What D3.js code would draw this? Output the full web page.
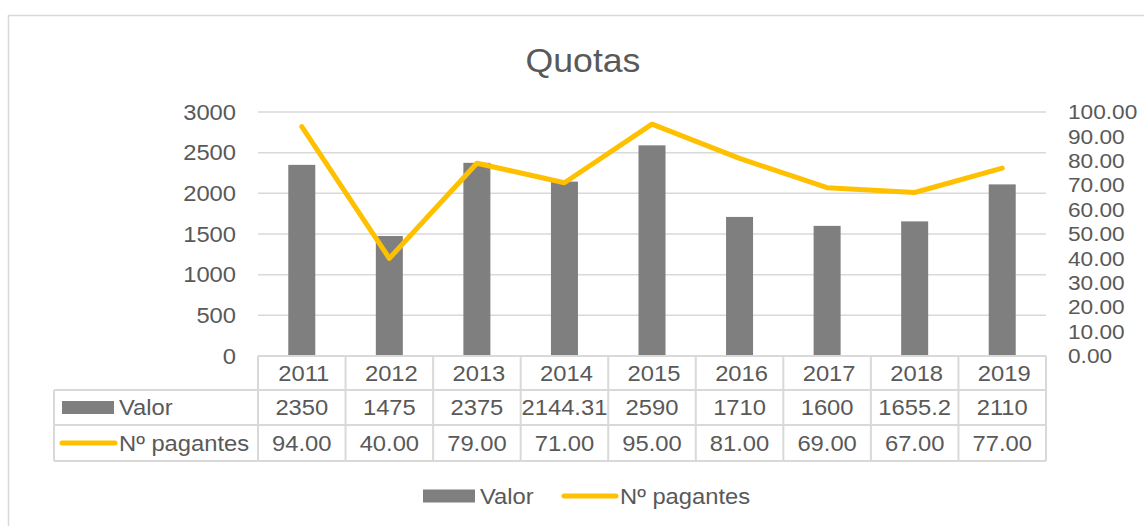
<!DOCTYPE html>
<html><head><meta charset="utf-8">
<script src="https://cdn.jsdelivr.net/npm/d3@7"></script>
<style>body{margin:0;background:#fff;}svg{display:block;font-family:"Liberation Sans",Arial,sans-serif;}</style>
</head><body>
<svg id="c" width="1144" height="526"></svg>
<script>
const years = ["2011","2012","2013","2014","2015","2016","2017","2018","2019"];
const valor = [2350,1475,2375,2144.31,2590,1710,1600,1655.2,2110];
const valorLabels = ["2350","1475","2375","2144.31","2590","1710","1600","1655.2","2110"];
const pagantes = [94,40,79,71,95,81,69,67,77];
const leftTicks = [0,500,1000,1500,2000,2500,3000];
const rightTicks = [0,10,20,30,40,50,60,70,80,90,100];
const seriesNames = ["Valor","Nº pagantes"];

const txt = "#595959", grid = "#d9d9d9", barC = "#7f7f7f", lineC = "#FFC000";
const SX = 1.08;
const svg = d3.select("#c");
svg.append("rect").attr("x",8.5).attr("y",15.5).attr("width",1300).attr("height",700)
  .attr("fill","#fff").attr("stroke",grid).attr("stroke-width",1.5);

const L = 258, R = 1046, T = 112, B = 356;
const x = d3.scaleBand().domain(years).range([L,R]).paddingInner(0).paddingOuter(0);
const yL = d3.scaleLinear().domain([0,3000]).range([B,T]);
const yR = d3.scaleLinear().domain([0,100]).range([B,T]);

// text helper with horizontal stretch
function T_(parent, t, tx, ty, size, anchor){
  return parent.append("text").attr("transform",`translate(${tx},${ty}) scale(${SX},1)`)
    .attr("dy","0.35em").attr("text-anchor",anchor||"start")
    .attr("font-size",size).attr("fill",txt).text(t);
}
function stretchAxis(g, size){
  g.selectAll(".tick text").each(function(){
    const s = d3.select(this);
    const xx = +s.attr("x") || 0;
    s.attr("x",0).attr("transform",`translate(${xx},0) scale(${SX},1)`)
     .attr("font-size",size).attr("fill",txt).attr("font-family","Liberation Sans,Arial,sans-serif");
  });
}

T_(svg,"Quotas",583,60,33,"middle");

// gridlines
svg.append("g").selectAll("line").data(leftTicks.filter(d=>d>0)).join("line")
  .attr("x1",L).attr("x2",R).attr("y1",d=>yL(d)).attr("y2",d=>yL(d))
  .attr("stroke",grid).attr("stroke-width",1.5);

// left axis labels
const gl = svg.append("g").attr("transform",`translate(${L},0)`)
  .call(d3.axisLeft(yL).tickValues(leftTicks).tickSize(0).tickPadding(22).tickFormat(d3.format("d")));
gl.select(".domain").remove();
stretchAxis(gl,22);

// right axis labels
const gr = svg.append("g").attr("transform",`translate(${R},0)`)
  .call(d3.axisRight(yR).tickValues(rightTicks).tickSize(0).tickPadding(22).tickFormat(d3.format(".2f")));
gr.select(".domain").remove();
stretchAxis(gr,21);

// bars
const bw = 27;
svg.append("g").selectAll("rect").data(valor).join("rect")
  .attr("x",(d,i)=>x(years[i])+x.bandwidth()/2-bw/2).attr("width",bw)
  .attr("y",d=>yL(d)).attr("height",d=>B-yL(d)).attr("fill",barC);

// line
svg.append("path").datum(pagantes)
  .attr("d",d3.line().x((d,i)=>x(years[i])+x.bandwidth()/2).y(d=>yR(d)))
  .attr("fill","none").attr("stroke",lineC).attr("stroke-width",5)
  .attr("stroke-linejoin","round").attr("stroke-linecap","round");

// data table
const rows = [B, 390, 425, 461];
const TL = 54;
const tg = svg.append("g").attr("stroke",grid).attr("stroke-width",2);
tg.append("line").attr("x1",L).attr("x2",R).attr("y1",rows[0]).attr("y2",rows[0]);
[1,2,3].forEach(i=>tg.append("line").attr("x1",TL).attr("x2",R).attr("y1",rows[i]).attr("y2",rows[i]));
tg.append("line").attr("x1",TL).attr("x2",TL).attr("y1",rows[1]).attr("y2",rows[3]);
years.forEach(yr=>tg.append("line").attr("x1",x(yr)).attr("x2",x(yr)).attr("y1",rows[0]).attr("y2",rows[3]));
tg.append("line").attr("x1",R).attr("x2",R).attr("y1",rows[0]).attr("y2",rows[3]);

years.forEach((yr,i)=>{
  const cx = x(yr)+x.bandwidth()/2;
  T_(svg,yr,cx+2,(rows[0]+rows[1])/2,22,"middle");
  T_(svg,valorLabels[i],cx,(rows[1]+rows[2])/2,22,"middle");
  T_(svg,d3.format(".2f")(pagantes[i]),cx,(rows[2]+rows[3])/2,22,"middle");
});
// row headers
const r1 = (rows[1]+rows[2])/2, r2 = (rows[2]+rows[3])/2;
svg.append("rect").attr("x",62).attr("y",r1-6.5).attr("width",52).attr("height",13).attr("fill",barC);
svg.append("line").attr("x1",62).attr("x2",115).attr("y1",r2).attr("y2",r2)
  .attr("stroke",lineC).attr("stroke-width",5).attr("stroke-linecap","round");
T_(svg,seriesNames[0],119,r1,22);
T_(svg,seriesNames[1],119,r2,22);

// legend
const ly = 496;
svg.append("rect").attr("x",423).attr("y",ly-6.5).attr("width",52).attr("height",13).attr("fill",barC);
T_(svg,seriesNames[0],480,ly,22);
svg.append("line").attr("x1",564).attr("x2",616).attr("y1",ly).attr("y2",ly)
  .attr("stroke",lineC).attr("stroke-width",5).attr("stroke-linecap","round");
T_(svg,seriesNames[1],620,ly,22);
</script>
</body></html>
